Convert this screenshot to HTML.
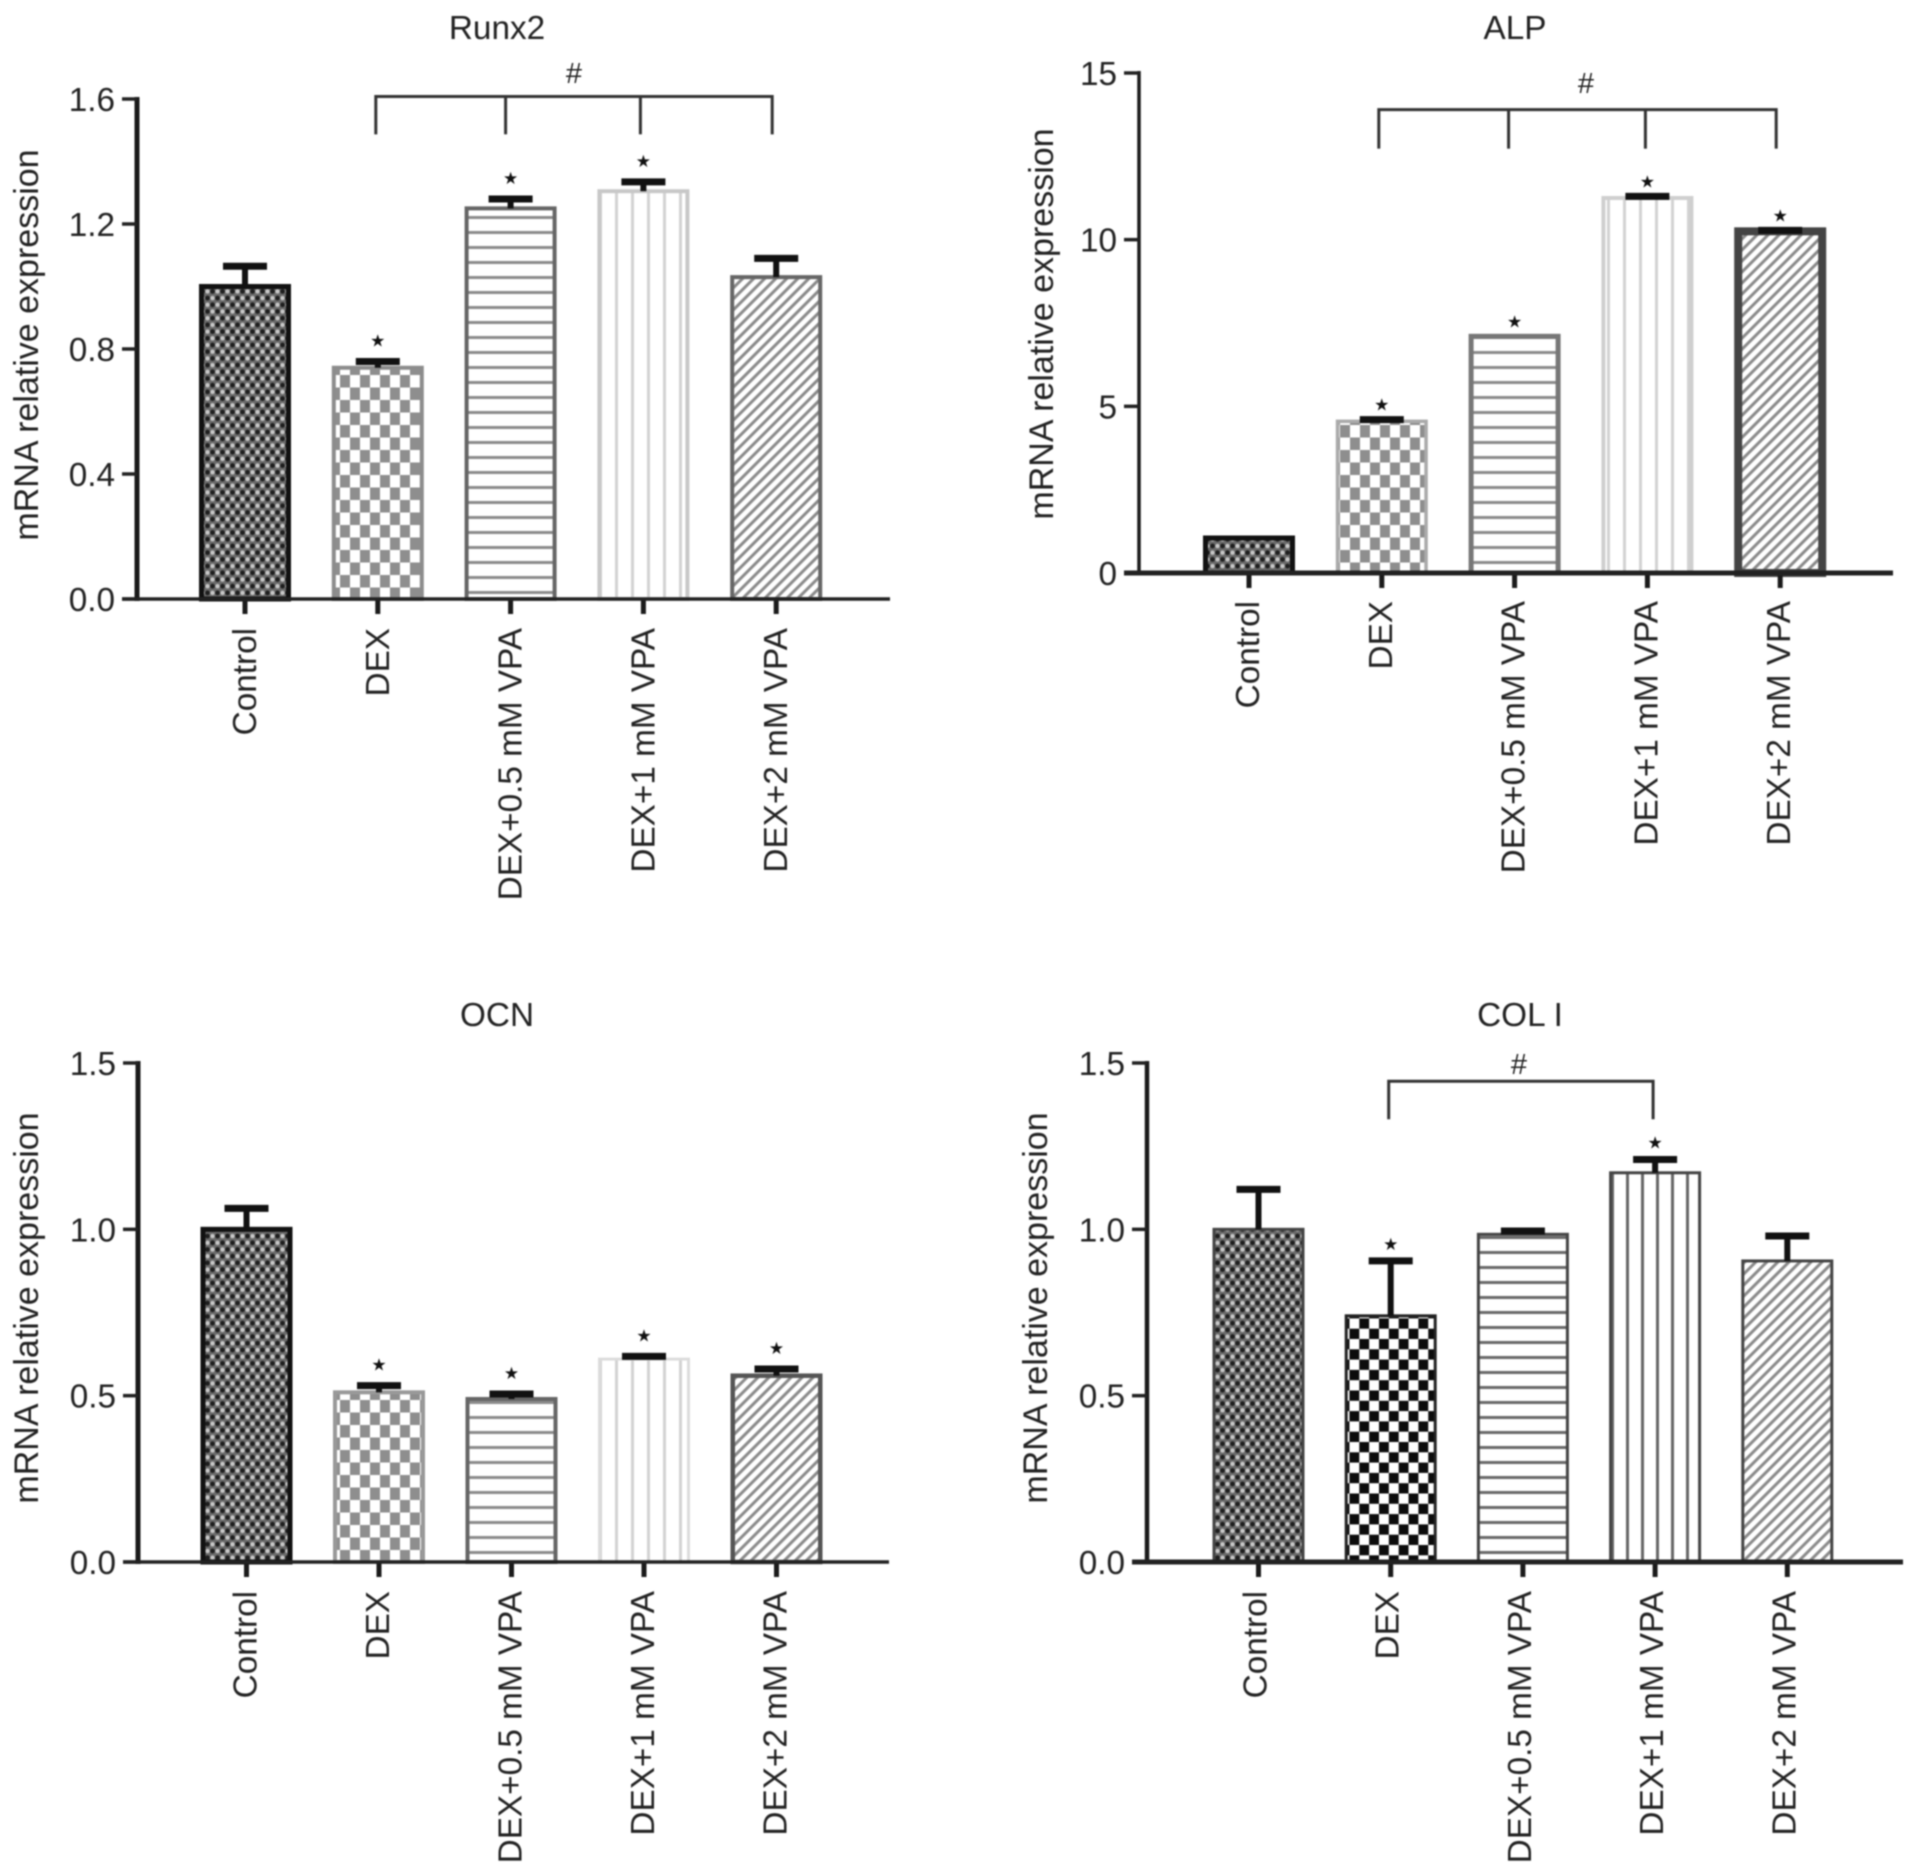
<!DOCTYPE html>
<html lang="en">
<head>
<meta charset="utf-8">
<title>mRNA relative expression bar charts</title>
<style>
html,body{margin:0;padding:0;background:#fff;width:1913px;height:1874px;overflow:hidden}
#figure{display:block;filter:blur(0.8px)}
text{font-family:"Liberation Sans",Arial,sans-serif;font-size:33.3px;fill:#222}
</style>
</head>
<body>
<svg id="figure" xmlns="http://www.w3.org/2000/svg" width="1913" height="1874" viewBox="0 0 1913 1874">
<defs>
<pattern id="dense" patternUnits="userSpaceOnUse" width="10" height="13.4">
  <rect width="10" height="13.4" fill="#6a6a6a"/>
  <circle cx="2.5" cy="3.3" r="2.2" fill="#c8c8c8"/>
  <circle cx="7.5" cy="10" r="2.2" fill="#c8c8c8"/>
  <circle cx="7.5" cy="3.3" r="2.4" fill="#1e1e1e"/>
  <circle cx="2.5" cy="10" r="2.4" fill="#1e1e1e"/>
</pattern>
<pattern id="checkGray" patternUnits="userSpaceOnUse" width="20" height="25">
  <rect width="20" height="25" fill="#fff"/>
  <rect x="0" y="0" width="10" height="12.5" fill="#8e8e8e"/>
  <rect x="10" y="12.5" width="10" height="12.5" fill="#8e8e8e"/>
</pattern>
<pattern id="checkBlack" patternUnits="userSpaceOnUse" width="19.7" height="20.6">
  <rect width="19.7" height="20.6" fill="#fff"/>
  <rect x="0" y="0" width="9.85" height="10.3" fill="#0c0c0c"/>
  <rect x="9.85" y="10.3" width="9.85" height="10.3" fill="#0c0c0c"/>
</pattern>
<pattern id="hLines" patternUnits="userSpaceOnUse" width="10" height="15">
  <rect width="10" height="15" fill="#fff"/>
  <rect y="6" width="10" height="3" fill="#8c8c8c"/>
</pattern>
<pattern id="hLinesDark" patternUnits="userSpaceOnUse" width="10" height="15">
  <rect width="10" height="15" fill="#fff"/>
  <rect y="6" width="10" height="3" fill="#6a6a6a"/>
</pattern>
<pattern id="vLinesLight" patternUnits="userSpaceOnUse" width="16" height="10">
  <rect width="16" height="10" fill="#fff"/>
  <rect x="7" width="3" height="10" fill="#d2d2d2"/>
</pattern>
<pattern id="vLinesDark" patternUnits="userSpaceOnUse" width="15" height="10">
  <rect width="15" height="10" fill="#fff"/>
  <rect x="6" width="3" height="10" fill="#666"/>
</pattern>
<pattern id="diag" patternUnits="userSpaceOnUse" width="7.8" height="8" patternTransform="rotate(45)">
  <rect width="7.8" height="8" fill="#fff"/>
  <rect x="3" width="3" height="8" fill="#8a8a8a"/>
</pattern>
</defs>
</svg>
<script>
const categories = ['Control', 'DEX', 'DEX+0.5 mM VPA', 'DEX+1 mM VPA', 'DEX+2 mM VPA'];

const runx2Values = [1.0, 0.74, 1.25, 1.305, 1.03];
const runx2ErrorTops = [1.065, 0.76, 1.28, 1.335, 1.09];
const runx2Stars = [false, true, true, true, false];
const runx2Ticks = ['0.0', '0.4', '0.8', '1.2', '1.6'];

const alpValues = [1.05, 4.55, 7.1, 11.25, 10.25];
const alpErrorTops = [0, 4.6, 0, 11.3, 10.28];
const alpStars = [false, true, true, true, true];
const alpTicks = ['0', '5', '10', '15'];

const ocnValues = [1.0, 0.51, 0.49, 0.61, 0.56];
const ocnErrorTops = [1.063, 0.53, 0.505, 0.618, 0.58];
const ocnStars = [false, true, true, true, true];
const ocnTicks = ['0.0', '0.5', '1.0', '1.5'];

const colValues = [1.0, 0.74, 0.985, 1.17, 0.905];
const colErrorTops = [1.12, 0.905, 0.995, 1.21, 0.98];
const colStars = [false, true, false, true, false];
const colTicks = ['0.0', '0.5', '1.0', '1.5'];

const panels = [
  {key:'runx2', title:'Runx2', values:runx2Values, tops:runx2ErrorTops, stars:runx2Stars, ticks:runx2Ticks,
   axisX:137, y0:599, yTop:99, first:245, step:132.8, xEnd:890, ySw:5, xSw:3.5, labelTop:628, labelDx:0, starGap:15,
   titleX:497, titleY:39, yTitleX:38, yTitleY:345,
   bracket:{idx:[1,2,3,4], level:1.608, drop:1.487, hashX:574, hashY:83, offs:[-2,-5,-3,-4]},
   fills:['dense','checkGray','hLines','vLinesLight','diag'],
   strokes:['#111','#8c8c8c','#666','#c8c8c8','#666'], sws:[5,4,4,4,4]},
  {key:'alp', title:'ALP', values:alpValues, tops:alpErrorTops, stars:alpStars, ticks:alpTicks,
   axisX:1139, y0:573, yTop:73, first:1249, step:132.8, xEnd:1893, ySw:3.5, xSw:5, labelTop:601, labelDx:-1, starGap:9,
   titleX:1515, titleY:39, yTitleX:1053, yTitleY:324,
   bracket:{idx:[1,2,3,4], level:13.9, drop:12.73, hashX:1586, hashY:93, offs:[-3,-6,-2,-4]},
   fills:['dense','checkGray','hLines','vLinesLight','diag'],
   strokes:['#111','#aaa','#777','#cfcfcf','#444'], sws:[5,3.5,5,4,8]},
  {key:'ocn', title:'OCN', values:ocnValues, tops:ocnErrorTops, stars:ocnStars, ticks:ocnTicks,
   axisX:138, y0:1562, yTop:1063, first:246.5, step:132.5, xEnd:889, ySw:5, xSw:3.5, labelTop:1591, labelDx:-1, starGap:15,
   titleX:497, titleY:1026, yTitleX:38, yTitleY:1308,
   bracket:null,
   fills:['dense','checkGray','hLines','vLinesLight','diag'],
   strokes:['#111','#999','#666','#dcdcdc','#555'], sws:[5,4,4,3,4.5]},
  {key:'col', title:'COL I', values:colValues, tops:colErrorTops, stars:colStars, ticks:colTicks,
   axisX:1147, y0:1562, yTop:1063, first:1258.5, step:132.2, xEnd:1903, ySw:4.5, xSw:5, labelTop:1591, labelDx:-3, starGap:11,
   titleX:1520, titleY:1026, yTitleX:1047, yTitleY:1308,
   bracket:{idx:[1,3], level:1.445, drop:1.331, hashX:1519, hashY:1074, offs:[-2,-2]},
   fills:['dense','checkBlack','hLinesDark','vLinesDark','diag'],
   strokes:['#444','#222','#444','#444','#444'], sws:[3,3,3,3,3]}
];

const SVG_NS = 'http://www.w3.org/2000/svg';
const root = document.getElementById('figure');
const BAR_W = 92;

function shape(parent, tag, attrs) {
  const el = document.createElementNS(SVG_NS, tag);
  for (const k in attrs) el.setAttribute(k, attrs[k]);
  parent.appendChild(el);
  return el;
}

panels.forEach(function (p) {
  const maxV = parseFloat(p.ticks[p.ticks.length - 1]);
  const yScale = function (v) { return p.y0 - (v / maxV) * (p.y0 - p.yTop); };
  const xScale = function (i) { return p.first + i * p.step; };

  const g = shape(root, 'g', {});
  
  

  const title = shape(g, 'text', {x: p.titleX, y: p.titleY, 'text-anchor': 'middle'});
  title.textContent = p.title;
  
  

  const yTitle = shape(g, 'text', {x: p.yTitleX, y: p.yTitleY, 'text-anchor': 'middle', style: 'font-size:34px',
    transform: 'rotate(-90 ' + p.yTitleX + ' ' + p.yTitleY + ')'});
  yTitle.textContent = 'mRNA relative expression';
  
  

  p.values.forEach(function (v, i) {
    const cx = xScale(i);
    const sw = p.sws[i];
    const w = BAR_W - sw;
    const top = yScale(v);

    const bar = shape(g, 'rect', {x: cx - w / 2, y: top, width: w, height: p.y0 - top,
      fill: 'url(#' + p.fills[i] + ')', stroke: p.strokes[i], 'stroke-width': sw});
    
    

    const errTop = p.tops[i];
    if (errTop > 0) {
      const ey = yScale(errTop);
      const stem = shape(g, 'line', {x1: cx, x2: cx, y1: top, y2: ey, stroke: '#111', 'stroke-width': 6});
      
      
      const cap = shape(g, 'line', {x1: cx - 22, x2: cx + 22, y1: ey, y2: ey, stroke: '#111', 'stroke-width': 7});
      
      
    }

    if (p.stars[i]) {
      const base = errTop > 0 ? yScale(errTop) : top;
      const star = shape(g, 'text', {x: cx, y: base - p.starGap, 'text-anchor': 'middle',
        style: 'font-size:17px;font-family:\'DejaVu Sans\',sans-serif;fill:#111'});
      star.textContent = '★';
      
      
    }

    const tick = shape(g, 'line', {x1: cx, x2: cx, y1: p.y0, y2: p.y0 + 15, stroke: '#1a1a1a', 'stroke-width': 5});
    
    

    const lx = cx + 11 + p.labelDx;
    const label = shape(g, 'text', {x: lx, y: p.labelTop, 'text-anchor': 'end',
      transform: 'rotate(-90 ' + lx + ' ' + p.labelTop + ')'});
    label.textContent = categories[i];
    
    
  });

  const yAxis = shape(g, 'line', {x1: p.axisX, x2: p.axisX, y1: p.yTop - 2, y2: p.y0 + 2, stroke: '#1a1a1a', 'stroke-width': p.ySw});
  
  

  const xAxis = shape(g, 'line', {x1: p.axisX - 15, x2: p.xEnd, y1: p.y0, y2: p.y0, stroke: '#222', 'stroke-width': p.xSw});
  
  

  p.ticks.forEach(function (t, i) {
    const y = yScale(parseFloat(t));
    const tick = shape(g, 'line', {x1: p.axisX - 15, x2: p.axisX, y1: y, y2: y, stroke: '#222', 'stroke-width': 3.5});
    
    
    const label = shape(g, 'text', {x: p.axisX - 22, y: y + 12, 'text-anchor': 'end'});
    label.textContent = t;
    
    
  });

  if (p.bracket) {
    const b = p.bracket;
    const by = yScale(b.level);
    const dy = yScale(b.drop);
    const xs = b.idx.map(function (k, n) { return xScale(k) + b.offs[n]; });
    const h = shape(g, 'path', {d: 'M' + xs[0] + ' ' + dy + 'V' + by + 'H' + xs[xs.length - 1] + 'V' + dy,
      fill: 'none', stroke: '#333', 'stroke-width': 3});
    
    
    xs.slice(1, -1).forEach(function (x, n) {
      const d = shape(g, 'line', {x1: x, x2: x, y1: by, y2: dy, stroke: '#333', 'stroke-width': 3});
      
      
    });
    const hash = shape(g, 'text', {x: b.hashX, y: b.hashY, 'text-anchor': 'middle', style: 'font-size:29px'});
    hash.textContent = '#';
    
    
  }
});
</script>
</body>
</html>
